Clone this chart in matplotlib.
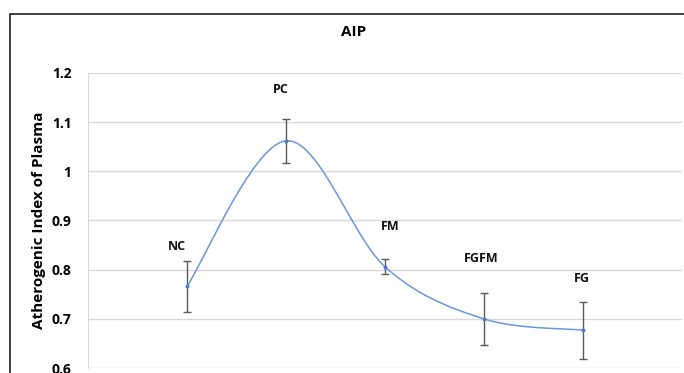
import numpy as np
import matplotlib
matplotlib.use("Agg")
import matplotlib.pyplot as plt
from matplotlib.patches import Rectangle

groups = ["NC", "PC", "FM", "FGFM", "FG"]
aip_mean = [0.766, 1.062, 0.806, 0.700, 0.677]
aip_err = [0.052, 0.045, 0.015, 0.053, 0.058]
label_y = [0.848, 1.167, 0.887, 0.822, 0.783]
label_dx = [-0.10, -0.05, 0.05, -0.03, -0.01]


def smooth_curve(ax, xs, ys, n=40):
    """Catmull-Rom spline through the points, computed in display space (like Excel's smoothed line)."""
    pts = ax.transData.transform(np.column_stack([xs, ys]))
    pts = np.vstack([pts[0], pts, pts[-1]])
    out = []
    for i in range(1, len(pts) - 2):
        p0, p1, p2, p3 = pts[i - 1], pts[i], pts[i + 1], pts[i + 2]
        t = np.linspace(0, 1, n)[:, None]
        c1 = p1 + (p2 - p0) / 6.0
        c2 = p2 - (p3 - p1) / 6.0
        seg = ((1 - t) ** 3) * p1 + 3 * ((1 - t) ** 2) * t * c1 + 3 * (1 - t) * t ** 2 * c2 + t ** 3 * p2
        out.append(seg)
    out = np.vstack(out)
    return ax.transData.inverted().transform(out)


plt.rcParams['font.family'] = ['Open Sans', 'DejaVu Sans']

fig = plt.figure(figsize=(6.84, 3.73), dpi=100)
ax = fig.add_axes([0.1287, 0.0134, 0.868, 0.791])

x = np.arange(1, len(groups) + 1)
ax.set_xlim(0, 6)
ax.set_ylim(0.6, 1.2)

curve = smooth_curve(ax, x, aip_mean)
ax.plot(curve[:, 0], curve[:, 1], color='#6a96dc', lw=1.1, zorder=3)
ax.plot(x, aip_mean, 'o', color='#4a7bd0', ms=1.8, zorder=4)
ax.errorbar(x, aip_mean, yerr=aip_err, fmt='none', ecolor='#5a5a5a',
            elinewidth=1.0, capsize=3, capthick=1.0, zorder=2)

for xi, name, ly, dx in zip(x, groups, label_y, label_dx):
    ax.text(xi + dx, ly, name, ha='center', va='center', fontsize=9,
            fontweight='bold', color='#111111')

ax.set_yticks([0.6, 0.7, 0.8, 0.9, 1.0, 1.1, 1.2])
ax.set_yticklabels(["0.6", "0.7", "0.8", "0.9", "1", "1.1", "1.2"])
ax.set_xticks([])
ax.tick_params(axis='y', length=0, pad=12, labelsize=10)
for lbl in ax.get_yticklabels():
    lbl.set_fontweight('bold')
ax.grid(axis='y', color='#d9d9d9', lw=1)
ax.set_axisbelow(True)
for side in ['top', 'right', 'bottom']:
    ax.spines[side].set_visible(False)
ax.spines['left'].set_color('#d9d9d9')

ax.set_ylabel("Atherogenic Index of Plasma", fontsize=11, fontweight='bold')
ax.yaxis.set_label_coords(-0.071, 0.5)

fig.text(354 / 684, 1 - 32 / 373, "AIP", ha='center', va='center',
         fontsize=11, fontweight='bold')

# outer chart frame (cut off at the right and bottom)
fig.patches.append(Rectangle((10 / 684, -0.1), 1.2, 1 - 14 / 373 + 0.1,
                             transform=fig.transFigure, fill=False,
                             edgecolor='#222222', lw=1.2))

fig.savefig("out.png", dpi=100)
